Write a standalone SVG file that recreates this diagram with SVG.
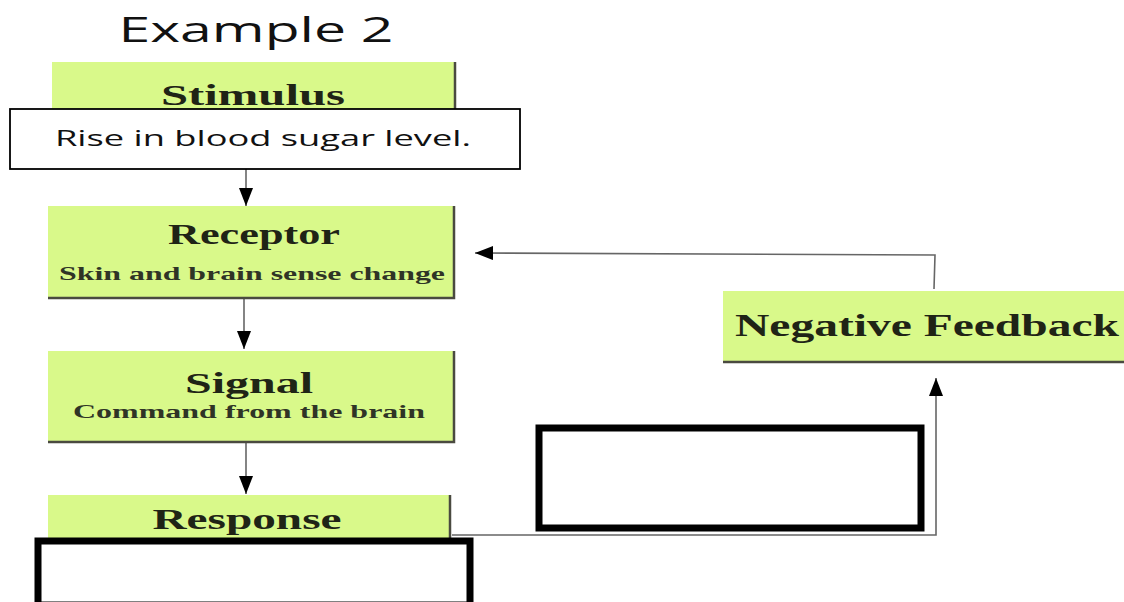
<svg xmlns="http://www.w3.org/2000/svg" width="1124" height="602" viewBox="0 0 1124 602">
<style>
.box{fill:#d9f98a}
.shadow{fill:none;stroke:#4a4a40;stroke-width:2.5}
.title{font-family:"Liberation Serif",serif;font-weight:bold;fill:#1f2416}
.sub{font-family:"Liberation Serif",serif;font-weight:bold;fill:#2f3426}
.sans{font-family:"Open Sans","Liberation Sans",sans-serif;fill:#111}
.conn{fill:none;stroke:#666;stroke-width:1.6}
.blank{fill:#fff;stroke:#000;stroke-width:7}
</style>
<defs>
<marker id="ah" viewBox="0 0 18 14" refX="18" refY="7" markerWidth="18" markerHeight="14" markerUnits="userSpaceOnUse" orient="auto">
<path d="M0,0 L18,7 L0,14 Z" fill="#000"/>
</marker>
</defs>
<rect width="1124" height="602" fill="#fff"/>
<text x="256" y="42" text-anchor="middle" class="sans" font-size="35" textLength="275" lengthAdjust="spacingAndGlyphs">Example 2</text>

<g id="connectors">
<line class="conn" x1="246" y1="169" x2="246" y2="206" marker-end="url(#ah)"/>
<line class="conn" x1="244" y1="299" x2="244" y2="349" marker-end="url(#ah)"/>
<line class="conn" x1="246" y1="443" x2="246" y2="494" marker-end="url(#ah)"/>
<path class="conn" d="M934,289 L935,255 L475,253" marker-end="url(#ah)"/>
<path class="conn" d="M452,535 L936,535 L936,378" marker-end="url(#ah)"/>
</g>

<g id="stimulus">
<rect class="box" x="52" y="62" width="403" height="50"/>
<line class="shadow" x1="455" y1="62" x2="455" y2="112"/>
<text x="253" y="105" text-anchor="middle" class="title" font-size="29" textLength="184" lengthAdjust="spacingAndGlyphs">Stimulus</text>
</g>

<g id="stimulus-note">
<rect x="10" y="109" width="510" height="60" fill="#fff" stroke="#000" stroke-width="1.8"/>
<text x="263" y="146" text-anchor="middle" class="sans" font-size="22" textLength="416" lengthAdjust="spacingAndGlyphs">Rise in blood sugar level.</text>
</g>

<g id="receptor">
<rect class="box" x="48" y="206" width="406" height="92"/>
<polyline class="shadow" points="454,206 454,298 48,298"/>
<text x="254" y="244" text-anchor="middle" class="title" font-size="30" textLength="172" lengthAdjust="spacingAndGlyphs">Receptor</text>
<text x="252" y="280" text-anchor="middle" class="sub" font-size="19" textLength="386" lengthAdjust="spacingAndGlyphs">Skin and brain sense change</text>
</g>

<g id="signal">
<rect class="box" x="48" y="351" width="406" height="91"/>
<polyline class="shadow" points="454,351 454,442 48,442"/>
<text x="249" y="393" text-anchor="middle" class="title" font-size="30" textLength="128" lengthAdjust="spacingAndGlyphs">Signal</text>
<text x="249" y="418" text-anchor="middle" class="sub" font-size="19" textLength="352" lengthAdjust="spacingAndGlyphs">Command from the brain</text>
</g>

<g id="response">
<rect class="box" x="48" y="495" width="402" height="43"/>
<line class="shadow" x1="450" y1="495" x2="450" y2="538"/>
<text x="247" y="529" text-anchor="middle" class="title" font-size="29" textLength="189" lengthAdjust="spacingAndGlyphs">Response</text>
</g>

<g id="response-blank">
<rect class="blank" x="38" y="541" width="432" height="64"/>
</g>

<g id="negative-feedback">
<rect class="box" x="723" y="291" width="401" height="71"/>
<line class="shadow" x1="723" y1="362" x2="1124" y2="362"/>
<text x="735" y="336" class="title" font-size="31" textLength="384" lengthAdjust="spacingAndGlyphs">Negative Feedback</text>
</g>

<g id="middle-blank">
<rect class="blank" x="539" y="428" width="382" height="100"/>
</g>
</svg>
